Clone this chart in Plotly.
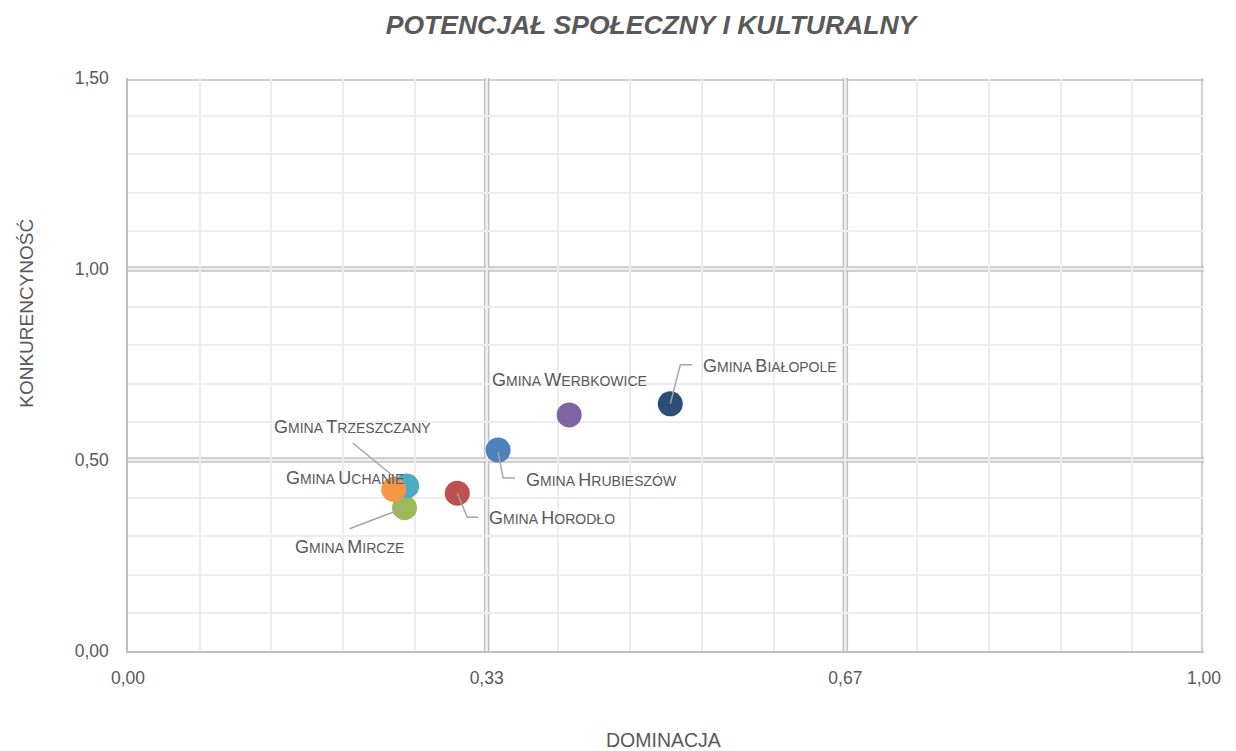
import plotly.graph_objects as go

names = ["Gmina Hrubieszów", "Gmina Horodło", "Gmina Mircze", "Gmina Werbkowice",
         "Gmina Trzeszczany", "Gmina Uchanie", "Gmina Białopole"]
dominacja = [0.344, 0.306, 0.257, 0.410, 0.259, 0.247, 0.504]
konkurencyjnosc = [0.526, 0.413, 0.375, 0.618, 0.432, 0.423, 0.647]
colors = ["#4F81BD", "#C0504D", "#9BBB59", "#8064A2", "#4BACC6", "#F79646", "#2C4D75"]

x_tickvals = [0, 1/3, 2/3, 1]
x_ticktext = ["0,00", "0,33", "0,67", "1,00"]
y_tickvals = [0, 0.5, 1.0, 1.5]
y_ticktext = ["0,00", "0,50", "1,00", "1,50"]

# label offsets (px) relative to point: xshift, yshift, xanchor
label_pos = {
    "Gmina Hrubieszów": (26, -30, "left"),
    "Gmina Horodło": (30, -25, "left"),
    "Gmina Mircze": (-55, -39, "center"),
    "Gmina Werbkowice": (0, 35, "center"),
    "Gmina Trzeszczany": (-54, 59, "center"),
    "Gmina Uchanie": (-49, 11, "center"),
    "Gmina Białopole": (31, 38, "left"),
}
leaders = {
    "Gmina Hrubieszów": "M0,-2 L5,-28 L17,-28",
    "Gmina Horodło": "M0,0 L10,-24 L21,-24",
    "Gmina Mircze": "M-55,-21 L0,0",
    "Gmina Trzeszczany": "M-54,43 L0,-1",
    "Gmina Białopole": "M0,0 L10,39 L22,39",
}

FONT = "Liberation Sans, Arial, sans-serif"
GRAY = "#595959"


def smallcaps(txt, big=18, small=14):
    parts = []
    for w in txt.split(" "):
        parts.append(f"<span style='font-size:{big}px'>{w[0].upper()}</span>"
                     f"<span style='font-size:{small}px'>{w[1:].upper()}</span>")
    return " ".join(parts)


fig = go.Figure()
for n, xv, yv, c in zip(names, dominacja, konkurencyjnosc, colors):
    fig.add_trace(go.Scatter(x=[xv], y=[yv], mode="markers", name=n,
                             marker=dict(size=25, color=c, line=dict(width=0)),
                             showlegend=False, hoverinfo="name"))

annotations = []
shapes = []
for n, xv, yv in zip(names, dominacja, konkurencyjnosc):
    dx, dy, anc = label_pos[n]
    annotations.append(dict(x=xv, y=yv, xref="x", yref="y", text=smallcaps(n),
                            showarrow=False, xshift=dx, yshift=dy, xanchor=anc,
                            yanchor="middle", font=dict(family=FONT, color=GRAY)))
    if n in leaders:
        shapes.append(dict(type="path", xref="x", yref="y", xsizemode="pixel",
                           ysizemode="pixel", xanchor=xv, yanchor=yv, path=leaders[n],
                           line=dict(color="#A6A6A6", width=1.5), layer="above"))

# double major gridlines
GRID = "#C0C0C0"
for xv in x_tickvals[1:]:
    for off in (-2, 2):
        shapes.append(dict(type="line", xref="x", yref="paper", xsizemode="pixel",
                           xanchor=xv, x0=off, x1=off, y0=0, y1=1,
                           line=dict(color=GRID, width=1.5), layer="below"))
for yv in y_tickvals[1:]:
    for off in (-2, 2):
        shapes.append(dict(type="line", xref="paper", yref="y", ysizemode="pixel",
                           yanchor=yv, y0=off, y1=off, x0=0, x1=1,
                           line=dict(color=GRID, width=1.5), layer="below"))

annotations.append(dict(text="KONKURENCYNOŚĆ", xref="paper", yref="paper", x=-0.094,
                        y=0.59, xanchor="center", yanchor="middle", textangle=-90,
                        showarrow=False, font=dict(family=FONT, size=19, color=GRAY)))
annotations.append(dict(text="DOMINACJA", xref="paper", yref="paper", x=0.498,
                        y=-0.155, xanchor="center", yanchor="middle",
                        showarrow=False, font=dict(family=FONT, size=19.5, color=GRAY)))

fig.update_layout(
    width=1236, height=751,
    margin=dict(l=128, r=32, t=78, b=100),
    paper_bgcolor="white", plot_bgcolor="white",
    title=dict(text="<b><i>POTENCJAŁ SPOŁECZNY I KULTURALNY</i></b>",
               x=651 / 1236, xanchor="center", yref="container", y=1 - 25 / 751,
               yanchor="middle",
               font=dict(family=FONT, size=26.5, color=GRAY)),
    xaxis=dict(range=[0, 1], tickvals=x_tickvals, ticktext=x_ticktext,
               showgrid=False, zeroline=False, showline=True, linecolor="#BFBFBF",
               linewidth=1.5, ticks="", ticklabelstandoff=10,
               tickfont=dict(family=FONT, size=17.5, color=GRAY),
               minor=dict(dtick=1/15, tick0=0, showgrid=True, gridcolor="#EDEDED",
                          gridwidth=1.5)),
    yaxis=dict(range=[0, 1.5], tickvals=y_tickvals, ticktext=y_ticktext,
               showgrid=False, zeroline=False, showline=True, linecolor="#BFBFBF",
               linewidth=1.5, ticks="", ticklabelstandoff=14,
               tickfont=dict(family=FONT, size=17.5, color=GRAY),
               minor=dict(dtick=0.1, tick0=0, showgrid=True, gridcolor="#EDEDED",
                          gridwidth=1.5)),
    shapes=shapes, annotations=annotations,
)

fig.write_html("out.html", config={"displayModeBar": False},
               post_script="document.body.style.margin='0';")
